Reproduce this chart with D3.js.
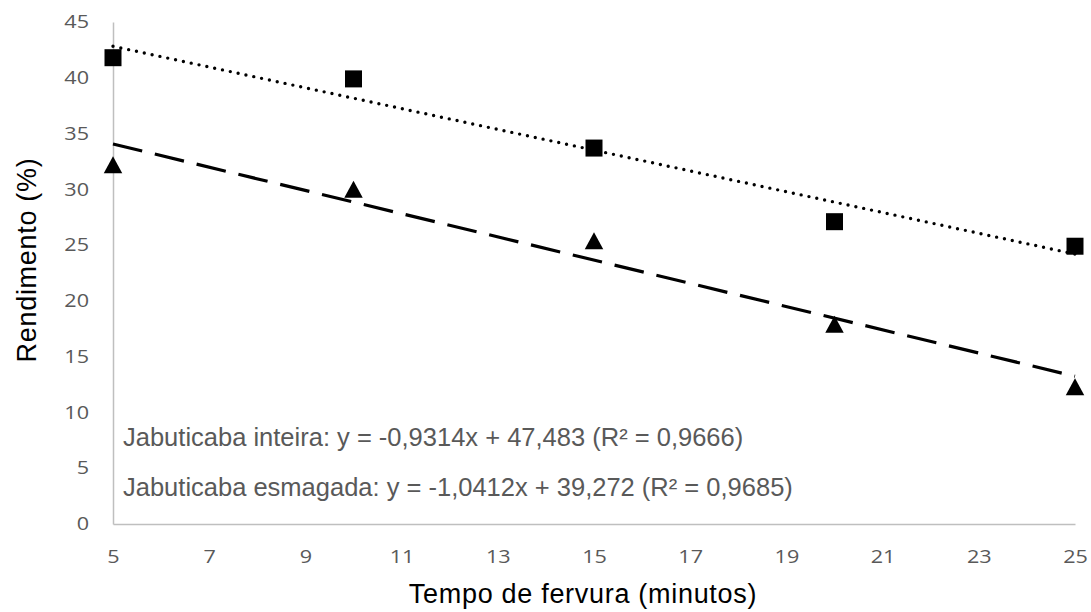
<!DOCTYPE html>
<html>
<head>
<meta charset="utf-8">
<script src="https://cdn.jsdelivr.net/npm/d3@7"></script>
<style>
  body { margin: 0; background: #fff; }
  .axis text { font-family: "Open Sans", sans-serif; font-size: 18px; fill: #595959; }
  .axis path { stroke: #bfbfbf; stroke-width: 1.5; }
  .label { font-family: "Liberation Sans", Arial, sans-serif; font-size: 27px; letter-spacing: 0.7px; fill: #000; }
  .eq { font-family: "Liberation Sans", Arial, sans-serif; font-size: 25.5px; fill: #595959; }
</style>
</head>
<body>
<svg id="chart" width="1091" height="612"></svg>
<script>
// tempo de fervura (min)
const tempo = [5, 10, 15, 20, 25]
// rendimento (%)
const inteira = [41.8, 39.9, 33.7, 27.1, 24.9]
const esmagada = [32.2, 30.0, 25.4, 17.9, 12.3]
// coeficientes das linhas de tendência: [inclinação, intercepto]
const trendInteira = [-0.9314, 47.483]
const trendEsmagada = [-1.0412, 39.272]
const xTicks = [5, 7, 9, 11, 13, 15, 17, 19, 21, 23, 25]
const yTicks = [0, 5, 10, 15, 20, 25, 30, 35, 40, 45]
const eqLabels = [
  "Jabuticaba inteira: y = -0,9314x + 47,483 (R² = 0,9666)",
  "Jabuticaba esmagada: y = -1,0412x + 39,272 (R² = 0,9685)"
]

const svg = d3.select("#chart")
const mLeft = 113, mRight = 1075, mTop = 22, mBottom = 524

const x = d3.scaleLinear().domain([5, 25]).range([mLeft, mRight])
const y = d3.scaleLinear().domain([0, 45]).range([mBottom, mTop])

// axes (tick digits are drawn a bit wide, as in the original)
svg.append("g").attr("class", "axis")
    .attr("transform", `translate(0,${mBottom})`)
    .call(d3.axisBottom(x).tickValues(xTicks).tickSize(0).tickPadding(26).tickSizeOuter(0))
    .selectAll(".tick text").attr("transform", "scale(1.2,1)")
svg.append("g").attr("class", "axis")
    .attr("transform", `translate(${mLeft},0)`)
    .call(d3.axisLeft(y).tickValues(yTicks).tickSize(0).tickPadding(20).tickSizeOuter(0))
    .selectAll(".tick text").attr("transform", "scale(1.2,1)")

// trend lines
const trend = (c) => tempo.filter((d, i) => i == 0 || i == tempo.length - 1).map(t => [t, c[0] * t + c[1]])
const line = d3.line().x(d => x(d[0])).y(d => y(d[1]))

svg.append("path")
    .attr("d", line(trend(trendInteira)))
    .attr("fill", "none").attr("stroke", "#000")
    .attr("stroke-width", 3.4).attr("stroke-linecap", "round")
    .attr("stroke-dasharray", "0 8")
svg.append("path")
    .attr("d", line(trend(trendEsmagada)))
    .attr("fill", "none").attr("stroke", "#000")
    .attr("stroke-width", 3.2)
    .attr("stroke-dasharray", "30 13")

// triangle centred on its bounding box, like the spreadsheet marker
const triangle = {
  draw(ctx, size) {
    const w = Math.sqrt(size), h = w * 0.92
    ctx.moveTo(0, -h / 2)
    ctx.lineTo(w / 2, h / 2)
    ctx.lineTo(-w / 2, h / 2)
    ctx.closePath()
  }
}

// markers
svg.selectAll(".sq")
    .data(tempo.map((t, i) => [t, inteira[i]]))
    .join("path").attr("class", "sq")
    .attr("transform", d => `translate(${x(d[0])},${y(d[1])})`)
    .attr("d", d3.symbol(d3.symbolSquare, 17 * 17))
    .attr("fill", "#000")
svg.selectAll(".tri")
    .data(tempo.map((t, i) => [t, esmagada[i]]))
    .join("path").attr("class", "tri")
    .attr("transform", d => `translate(${x(d[0])},${y(d[1])})`)
    .attr("d", d3.symbol(triangle, 18.5 * 18.5))
    .attr("fill", "#000")

// equations
svg.selectAll(".eq")
    .data(eqLabels)
    .join("text").attr("class", "eq")
    .attr("x", 123)
    .attr("y", (d, i) => 446 + i * 50)
    .text(d => d)

// axis titles
svg.append("text").attr("class", "label")
    .attr("x", 583).attr("y", 603)
    .attr("text-anchor", "middle")
    .text("Tempo de fervura (minutos)")
svg.append("text").attr("class", "label")
    .attr("transform", `translate(36,260) rotate(-90)`)
    .attr("text-anchor", "middle")
    .text("Rendimento  (%)")
</script>
</body>
</html>
